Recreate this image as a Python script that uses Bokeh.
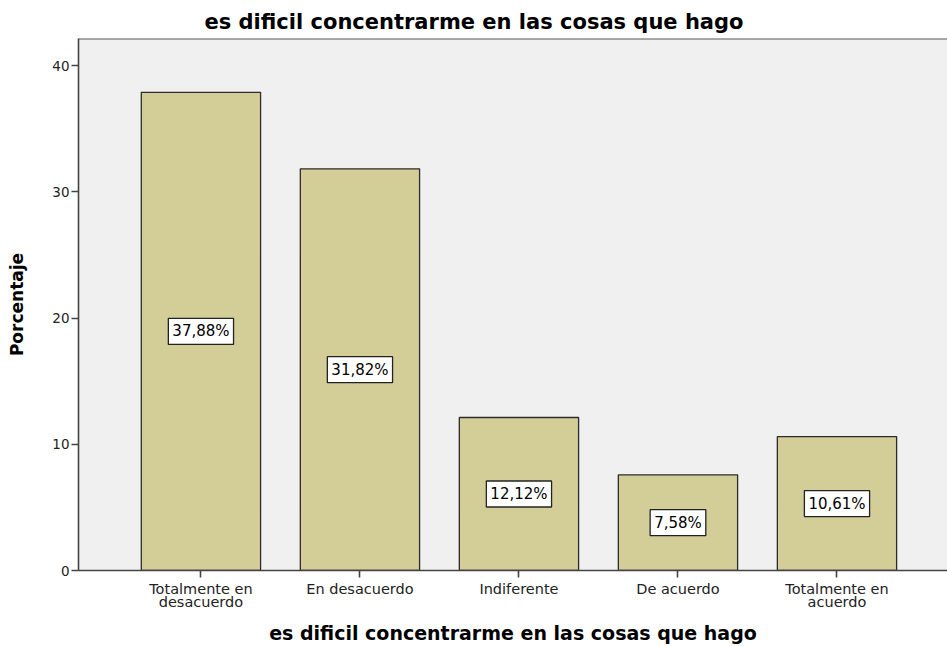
from bokeh.plotting import figure
from bokeh.models import (ColumnDataSource, Range1d, FixedTicker, Label, Span, Title)
from bokeh.embed import file_html
from bokeh.resources import INLINE

categories = ["Totalmente en\ndesacuerdo", "En desacuerdo", "Indiferente", "De acuerdo", "Totalmente en\nacuerdo"]
values = [37.88, 31.82, 12.12, 7.58, 10.61]
value_labels = ["37,88%", "31,82%", "12,12%", "7,58%", "10,61%"]
y_ticks = [0, 10, 20, 30, 40]
title_text = "es dificil concentrarme en las cosas que hago"
x_label = "es dificil concentrarme en las cosas que hago"
y_label = "Porcentaje"

FONT = "DejaVu Sans"
xs = list(range(len(categories)))
src = ColumnDataSource(dict(x=xs, top=values))

p = figure(width=947, height=646, output_backend="svg", toolbar_location=None,
           x_range=Range1d(-0.77, 4.695), y_range=Range1d(0, 42.14),
           min_border_left=78, min_border_right=0, min_border_top=38, min_border_bottom=76)
p.background_fill_color = "#F0F0F0"
p.border_fill_color = "white"
p.outline_line_color = None
p.xgrid.visible = False
p.ygrid.visible = False

p.title = Title(text=title_text, align="left", offset=126, standoff=10,
                text_font=FONT, text_font_style="bold", text_font_size="21px",
                text_color="black")

p.vbar(x="x", top="top", width=0.75, bottom=0, source=src,
       fill_color="#D3CE97", line_color="#2B2B2B", line_width=1.3)

p.add_layout(Span(location=42.14, dimension="width", line_color="#5A5A5A", line_width=2))

for xi, v, lab in zip(xs, values, value_labels):
    p.add_layout(Label(x=xi, y=v / 2, text=lab, text_align="center",
                       text_baseline="middle", text_font=FONT, text_font_size="15px",
                       text_color="black", background_fill_color="white",
                       border_line_color="#222222", border_line_width=1.3, padding=4))

# y axis
p.yaxis.ticker = FixedTicker(ticks=y_ticks)
p.yaxis.axis_line_color = "#444444"
p.yaxis.axis_line_width = 1.6
p.yaxis.major_tick_out = 7
p.yaxis.major_tick_in = 0
p.yaxis.minor_tick_out = 0
p.yaxis.minor_tick_in = 0
p.yaxis.major_tick_line_color = "#444444"
p.yaxis.major_tick_line_width = 1.6
p.yaxis.major_label_text_font = FONT
p.yaxis.major_label_text_font_size = "13.5px"
p.yaxis.major_label_text_color = "#222222"
p.yaxis.major_label_standoff = 2
p.yaxis.axis_label = y_label
p.yaxis.axis_label_text_font = FONT
p.yaxis.axis_label_text_font_style = "bold"
p.yaxis.axis_label_text_font_size = "17px"
p.yaxis.axis_label_text_color = "black"
p.yaxis.axis_label_standoff = 22

# x axis
p.xaxis.ticker = FixedTicker(ticks=xs)
p.xaxis.major_label_overrides = {i: c for i, c in zip(xs, categories)}
p.xaxis.axis_line_color = "#444444"
p.xaxis.axis_line_width = 1.6
p.xaxis.major_tick_out = 7
p.xaxis.major_tick_in = 0
p.xaxis.minor_tick_out = 0
p.xaxis.minor_tick_in = 0
p.xaxis.major_tick_line_color = "#444444"
p.xaxis.major_tick_line_width = 1.6
p.xaxis.major_label_text_font = FONT
p.xaxis.major_label_text_font_size = "14.5px"
p.xaxis.major_label_text_color = "#222222"
p.xaxis.major_label_text_line_height = 0.82
p.xaxis.major_label_standoff = 3
p.xaxis.axis_label = x_label
p.xaxis.axis_label_text_font = FONT
p.xaxis.axis_label_text_font_style = "bold"
p.xaxis.axis_label_text_font_size = "19px"
p.xaxis.axis_label_text_color = "black"
p.xaxis.axis_label_standoff = 9

open("out.html", "w").write(file_html(p, INLINE))
